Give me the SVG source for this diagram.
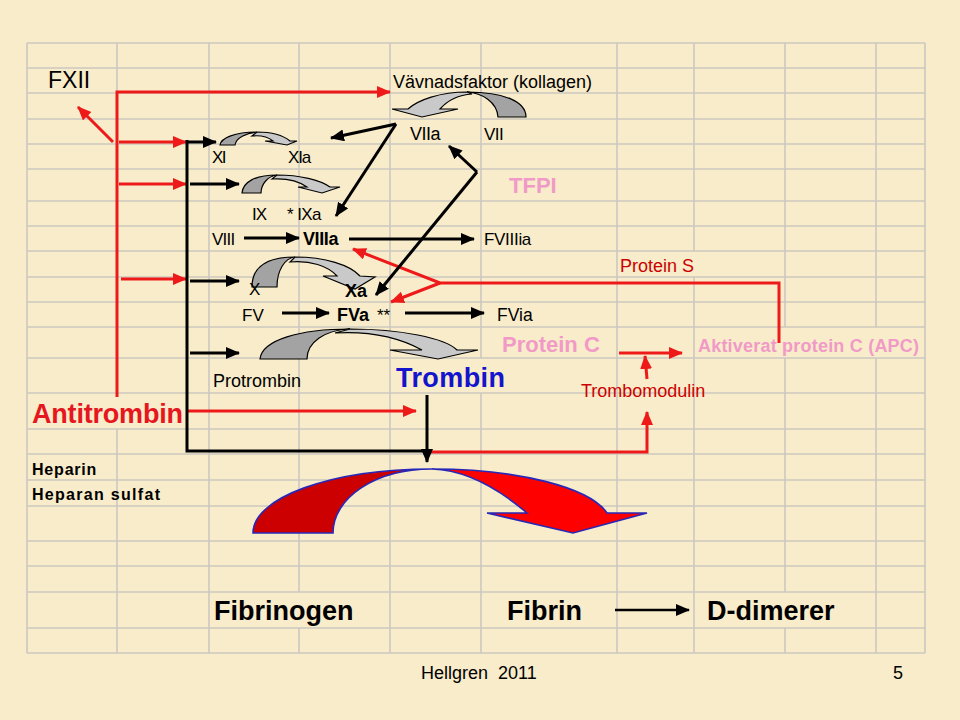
<svg xmlns="http://www.w3.org/2000/svg" width="960" height="720" viewBox="0 0 960 720">
<defs>
<style>
.t{font-family:"Liberation Sans",Arial,sans-serif;fill:#000}
.b{font-weight:bold}
.grid{stroke:#CBC8C0;stroke-width:1.6;fill:none}
.blk{stroke:#000;stroke-width:3;fill:none}
.red{stroke:#EE1A1A;stroke-width:3;fill:none}
.gd{fill:#A3A3A3;stroke:#000;stroke-width:1.2}
.gl{fill:#C9C9C9;stroke:#000;stroke-width:1.2}
.rd{fill:#CC0000;stroke:#2828B8;stroke-width:1.6}
.rl{fill:#FF0000;stroke:#2828B8;stroke-width:1.6}
.pink{fill:#F19AC8}
.dred{fill:#CC0000}
</style>
<marker id="ab" markerUnits="userSpaceOnUse" markerWidth="16" markerHeight="14" refX="13" refY="6" orient="auto"><path d="M0,0 L14,6 L0,12 Z" fill="#000"/></marker>
<marker id="ar" markerUnits="userSpaceOnUse" markerWidth="16" markerHeight="14" refX="13" refY="6" orient="auto"><path d="M0,0 L14,6 L0,12 Z" fill="#EE1A1A"/></marker>
</defs>
<rect x="0" y="0" width="960" height="720" fill="#F8ECCA"/>
<g id="grid" class="grid">
<path d="M27,43H925M27,68H925M27,93H925M27,119H925M27,144H925M27,169H925M27,201H925M27,226H925M27,251H925M27,277H925M27,302H925M27,327H925M27,358H925M27,393H925M27,429H925M27,454H925M27,480H925M27,506H925M27,541H925M27,566H925M27,592H925M27,628H925M27,653H925"/>
<path d="M27,43V653M117,43V393M117,429V653M209,43V653M299,43V592M299,628V653M390,43V653M481,43V358M481,393V653M617,43V653M694,43V251M694,277V653M785,43V327M785,358V592M785,628V653M876,43V327M876,358V653M925,43V653"/>
</g>
<g id="shapes">
<g id="arrow-vii"><path class="gd" d="M526,117 C526,102 505,92 467,92 C482,93 497,102 498,117 Z"/><path class="gl" d="M467,92 C440,92 418,100 408,109 L392,109 L422,117 L458,109 L440,109 C447,101 458,95 472,94 Z"/></g>
<g id="arrow-xi"><path class="gd" d="M220,145 C221,138 235,132 257,132 C246,133 236,138 235,145 Z"/><path class="gl" d="M257,132 C272,132 284,136 290,141 L297,141 L287,145 L265,141 L273,141 C268,137 262,135 252,136 Z"/></g>
<g id="arrow-ix"><path class="gd" d="M242,193 C243,182 255,175 277,175 C268,176 261,184 261,193 Z"/><path class="gl" d="M277,175 C300,175 320,180 330,187 L340,187 L322,193 L298,187 L307,187 C300,182 288,178 272,179 Z"/></g>
<g id="arrow-x"><path class="gd" d="M252,287 C252,268 265,257 295,257 C285,258 277,270 277,287 Z"/><path class="gl" d="M295,257 C325,257 350,265 360,276 L375,277 L355,289 L323,276 L337,276 C328,266 310,260 290,262 Z"/></g>
<g id="arrow-protrombin"><path class="gd" d="M260,359 C262,340 300,329 350,329 C325,330 307,342 307,359 Z"/><path class="gl" d="M350,329 C400,329 445,338 457,350 L478,350 L438,359 L390,350 L422,350 C400,338 370,331 335,333 Z"/></g>
<g id="arrow-fibrin"><path class="rd" d="M253,533 C253,498 330,469 432,469 C375,469 333,498 333,533 Z"/><path class="rl" d="M432,469 C520,469 590,488 607,513 L647,513 L573,533 L487,513 L527,513 C500,490 468,470 432,469 Z"/></g>
</g>
<g id="connectors">
<path class="red" d="M117,397 V92 H390" marker-end="url(#ar)"/>
<path class="red" d="M113,142 L78,107" marker-end="url(#ar)"/>
<path class="red" d="M119,142 H186" marker-end="url(#ar)"/>
<path class="red" d="M119,184 H186" marker-end="url(#ar)"/>
<path class="red" d="M121,279 H186" marker-end="url(#ar)"/>
<path class="red" d="M188,411 H416" marker-end="url(#ar)"/>
<path class="red" d="M428,452 H647 V412" marker-end="url(#ar)"/>
<path class="red" d="M647,379 L645,356" marker-end="url(#ar)"/>
<path class="red" d="M619,353 H682" marker-end="url(#ar)"/>
<path class="red" d="M779,343 V283 H440 L353,249" marker-end="url(#ar)"/>
<path class="red" d="M440,283 L391,302" marker-end="url(#ar)"/>
<path class="blk" d="M187,140 V451 H428"/>
<path class="blk" d="M427,395 V462" marker-end="url(#ab)"/>
<path class="blk" d="M188,142 H216" marker-end="url(#ab)"/>
<path class="blk" d="M190,184 H239" marker-end="url(#ab)"/>
<path class="blk" d="M190,281 H239" marker-end="url(#ab)"/>
<path class="blk" d="M190,353 H239" marker-end="url(#ab)"/>
<path class="blk" d="M244,238 H299" marker-end="url(#ab)"/>
<path class="blk" d="M349,239 H474" marker-end="url(#ab)"/>
<path class="blk" d="M282,313 H329" marker-end="url(#ab)"/>
<path class="blk" d="M405,313 H484" marker-end="url(#ab)"/>
<path class="blk" d="M396,124 L331,138" marker-end="url(#ab)"/>
<path class="blk" d="M396,124 L336,216" marker-end="url(#ab)"/>
<path class="blk" d="M477,172 L449,146" marker-end="url(#ab)"/>
<path class="blk" d="M477,172 L376,295" marker-end="url(#ab)"/>
<path class="blk" style="stroke-width:2.5" d="M615,610 H689" marker-end="url(#ab)"/>
</g>
<g id="nodes">
<g id="n-fxii"><text class="t" x="48" y="88" font-size="23">FXII</text></g>
<g id="n-vavnad"><text class="t" x="393" y="88" font-size="18" textLength="199" lengthAdjust="spacingAndGlyphs">Vävnadsfaktor (kollagen)</text></g>
<g id="n-viia"><text class="t" x="410" y="140" font-size="18" letter-spacing="-0.5">VIIa</text></g>
<g id="n-vii"><text class="t" x="484" y="140" font-size="17" letter-spacing="-0.5">VII</text></g>
<g id="n-tfpi"><text class="t b pink" x="509" y="193" font-size="22">TFPI</text></g>
<g id="n-xi"><text class="t" x="212" y="163" font-size="17" letter-spacing="-1.5">XI</text></g>
<g id="n-xia"><text class="t" x="288" y="163" font-size="17" letter-spacing="-1.2">XIa</text></g>
<g id="n-ix"><text class="t" x="252" y="220" font-size="17" letter-spacing="-1">IX</text></g>
<g id="n-ixa"><text class="t" x="287" y="220" font-size="17" letter-spacing="-0.6">* IXa</text></g>
<g id="n-viii"><text class="t" x="212" y="245" font-size="17" letter-spacing="-0.8">VIII</text></g>
<g id="n-viiia"><text class="t b" x="303" y="245" font-size="18" letter-spacing="-0.4">VIIIa</text></g>
<g id="n-fviiiia"><text class="t" x="484" y="245" font-size="17" letter-spacing="-0.3">FVIIIia</text></g>
<g id="n-x"><text class="t" x="249" y="295" font-size="17">X</text></g>
<g id="n-xa"><text class="t b" x="345" y="297" font-size="18">Xa</text></g>
<g id="n-fv"><text class="t" x="242" y="321" font-size="17">FV</text></g>
<g id="n-fva"><text class="t b" x="337" y="321" font-size="18">FVa</text><text class="t" x="377" y="321" font-size="17">**</text></g>
<g id="n-fvia"><text class="t" x="497" y="321" font-size="17.5">FVia</text></g>
<g id="n-proteinc"><text class="t b pink" x="502" y="352" font-size="22">Protein C</text></g>
<g id="n-proteins"><text class="t dred" x="620" y="272" font-size="18">Protein S</text></g>
<g id="n-apc"><text class="t b pink" x="698" y="352" font-size="18" textLength="221">Aktiverat protein C (APC)</text></g>
<g id="n-protrombin"><text class="t" x="213" y="387" font-size="18">Protrombin</text></g>
<g id="n-trombin"><text style="fill:#1414CC" class="t b" x="396" y="387" font-size="27" textLength="109">Trombin</text></g>
<g id="n-trombomodulin"><text class="t dred" x="581" y="397" font-size="18">Trombomodulin</text></g>
<g id="n-antitrombin"><text class="t b" style="fill:#E5161E" x="32" y="423" font-size="27" textLength="151">Antitrombin</text></g>
<g id="n-heparin"><text class="t b" x="32" y="475" font-size="16" letter-spacing="0.8">Heparin</text><text class="t b" x="32" y="500" font-size="16" textLength="128">Heparan sulfat</text></g>
<g id="n-fibrinogen"><text class="t b" x="214" y="620" font-size="27">Fibrinogen</text></g>
<g id="n-fibrin"><text class="t b" x="507" y="620" font-size="27">Fibrin</text></g>
<g id="n-ddimerer"><text class="t b" x="707" y="620" font-size="27">D-dimerer</text></g>
<g id="n-footer"><text class="t" x="421" y="679" font-size="18" xml:space="preserve">Hellgren  2011</text><text class="t" x="893" y="679" font-size="18">5</text></g>
</g>
</svg>
